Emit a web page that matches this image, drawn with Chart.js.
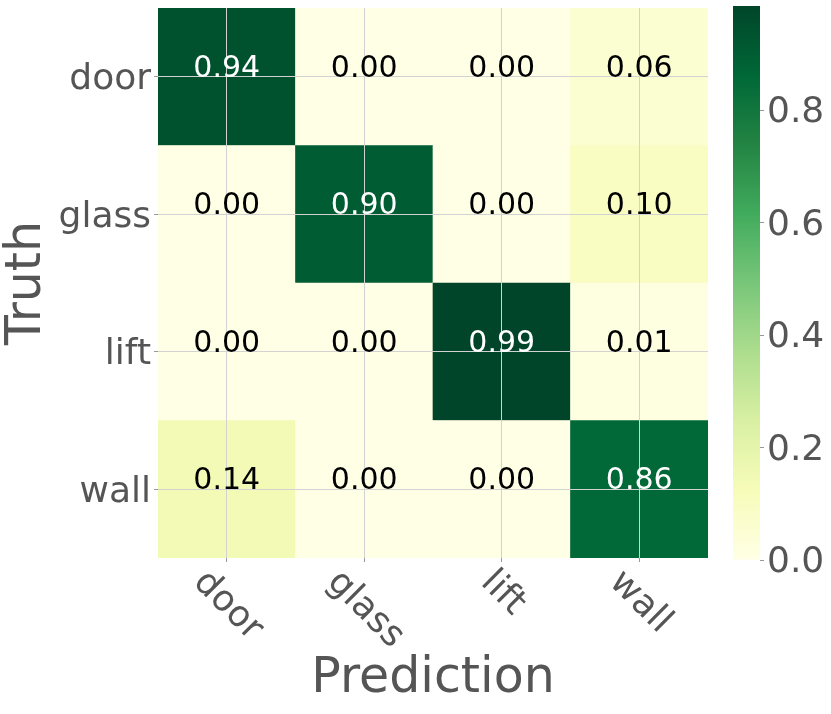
<!DOCTYPE html>
<html>
<head>
<meta charset="utf-8">
<script src="https://cdn.jsdelivr.net/npm/chart.js@4.4.1/dist/chart.umd.min.js"></script>
<style>
  body{ margin:0; background:#fff; }
  #wrap{ position:relative; width:831px; height:714px; }
  #wrap canvas{ position:absolute; left:0; top:0; }
</style>
</head>
<body>
<div id="wrap">
  <canvas id="chartCM" width="831" height="714"></canvas>
  <canvas id="chartBar" width="831" height="714"></canvas>
</div>
<script>
// confusion matrix, one array per truth row, columns = predicted class
const PRED_LABELS  = ["door","glass","lift","wall"];
const TRUTH_LABELS = ["door","glass","lift","wall"];
const ROW_DOOR  = [0.94, 0.00, 0.00, 0.06];
const ROW_GLASS = [0.00, 0.90, 0.00, 0.10];
const ROW_LIFT  = [0.00, 0.00, 0.99, 0.01];
const ROW_WALL  = [0.14, 0.00, 0.00, 0.86];
const CBAR_TICKS = [0.0, 0.2, 0.4, 0.6, 0.8];
const CBAR_MAX = 0.985;

const YLGN = ["#ffffe5","#f7fcb9","#d9f0a3","#addd8e","#78c679","#41ab5d","#238443","#006837","#004529"];
const FONT = "'DejaVu Sans', sans-serif";
const INK = "#555555";

function hexRgb(h){ return [1,3,5].map(i=>parseInt(h.slice(i,i+2),16)); }
function ylgn(v){
  let t = Math.max(0, Math.min(1, v / CBAR_MAX)) * (YLGN.length-1);
  const i = Math.min(Math.floor(t), YLGN.length-2), f = t - i;
  const a = hexRgb(YLGN[i]), b = hexRgb(YLGN[i+1]);
  const c = a.map((x,k)=>Math.round(x + (b[k]-x)*f));
  return `rgb(${c[0]},${c[1]},${c[2]})`;
}

// no automatic padding for edge labels, the plot box is set by layout.padding
function noEdgePad(s){ s.paddingTop = 0; s.paddingBottom = 0; s.paddingLeft = 0; s.paddingRight = 0; }

const rows = [ROW_DOOR, ROW_GLASS, ROW_LIFT, ROW_WALL];
// stacked from the bottom, so the last truth row goes first
const datasets = rows.slice().reverse().map((row, k) => ({
  label: TRUTH_LABELS[rows.length-1-k],
  data: row.map(() => 1),
  values: row,
  backgroundColor: row.map(ylgn),
  borderWidth: 0,
  barPercentage: 1,
  categoryPercentage: 1
}));

const cellText = {
  id: "cellText",
  afterDraw(chart){
    const ctx = chart.ctx;
    ctx.save();
    ctx.font = `30px ${FONT}`;
    ctx.textAlign = "center";
    ctx.textBaseline = "alphabetic";
    chart.data.datasets.forEach((ds, di) => {
      chart.getDatasetMeta(di).data.forEach((el, i) => {
        const v = ds.values[i];
        ctx.fillStyle = v / CBAR_MAX > 0.5 ? "#ffffff" : "#000000";
        ctx.fillText(v.toFixed(2), el.x, (el.y + el.base) / 2);
      });
    });
    ctx.restore();
  }
};

const xLabels = {
  id: "xLabels",
  afterDraw(chart){
    const ctx = chart.ctx, sx = chart.scales.x;
    ctx.save();
    ctx.font = `36px ${FONT}`;
    ctx.fillStyle = INK;
    ctx.textAlign = "center";
    ctx.textBaseline = "middle";
    PRED_LABELS.forEach((lab, i) => {
      const w = ctx.measureText(lab).width;
      ctx.save();
      ctx.translate(sx.getPixelForTick(i) + 1, chart.chartArea.bottom + 19 + w * 0.3536);
      ctx.rotate(Math.PI / 4);
      ctx.fillText(lab, 0, 0);
      ctx.restore();
    });
    ctx.restore();
  }
};

new Chart(document.getElementById("chartCM"), {
  type: "bar",
  data: { labels: PRED_LABELS, datasets },
  options: {
    responsive: false, animation: false, devicePixelRatio: 1,
    layout: { padding: { top: 8, right: 123, left: 0, bottom: 0 } },
    plugins: { legend: { display: false }, tooltip: { enabled: false } },
    scales: {
      x: {
        stacked: true,
        grid: { offset: false, z: 1, color: "#d2d2d2", tickColor: "#999", tickLength: 4 },
        border: { display: false },
        ticks: { color: "rgba(0,0,0,0)", maxRotation: 0, autoSkip: false, font: { family: FONT, size: 12 } },
        title: { display: true, text: "Prediction", color: INK, font: { family: FONT, size: 49, lineHeight: 1.1 }, padding: { top: 0, bottom: 8 } },
        afterFit(s){ s.height = 156; noEdgePad(s); }
      },
      y: {
        stacked: true, min: 0, max: 4,
        afterBuildTicks(s){ s.ticks = [3.5, 2.5, 1.5, 0.5].map(v => ({ value: v })); },
        grid: { z: 1, color: "#d2d2d2", tickColor: "#999", tickLength: 4 },
        border: { display: false },
        ticks: { color: INK, padding: 3, labelOffset: 3, font: { family: FONT, size: 36 },
                 callback: v => TRUTH_LABELS[3 - Math.floor(v)] },
        title: { display: true, text: "Truth", color: INK, font: { family: FONT, size: 49, lineHeight: 1.1 }, padding: 0 },
        afterFit(s){ s.width = 158; noEdgePad(s); }
      }
    }
  },
  plugins: [cellText, xLabels]
});

function barGradient(ctx){
  const area = ctx.chart.chartArea;
  if(!area) return YLGN[0];
  const g = ctx.chart.ctx.createLinearGradient(0, area.bottom, 0, area.top);
  YLGN.forEach((c, i) => g.addColorStop(i / (YLGN.length-1), c));
  return g;
}

new Chart(document.getElementById("chartBar"), {
  type: "bar",
  data: { labels: [""], datasets: [{ data: [[0, CBAR_MAX]], backgroundColor: barGradient, borderWidth: 0, borderSkipped: false,
    barPercentage: 1, categoryPercentage: 1 }] },
  options: {
    responsive: false, animation: false, devicePixelRatio: 1,
    layout: { padding: { top: 6, right: 0, left: 733, bottom: 154 } },
    plugins: { legend: { display: false }, tooltip: { enabled: false } },
    scales: {
      x: { display: false },
      y: {
        position: "right", min: 0, max: CBAR_MAX,
        afterBuildTicks(s){ s.ticks = CBAR_TICKS.map(v => ({ value: v })); },
        grid: { drawOnChartArea: false, tickColor: "#999", tickLength: 4 },
        border: { display: false },
        ticks: { color: INK, padding: 3, labelOffset: 3, font: { family: FONT, size: 36 }, callback: v => v.toFixed(1) },
        afterFit(s){ s.width = 71; noEdgePad(s); }
      }
    }
  }
});
</script>
</body>
</html>
